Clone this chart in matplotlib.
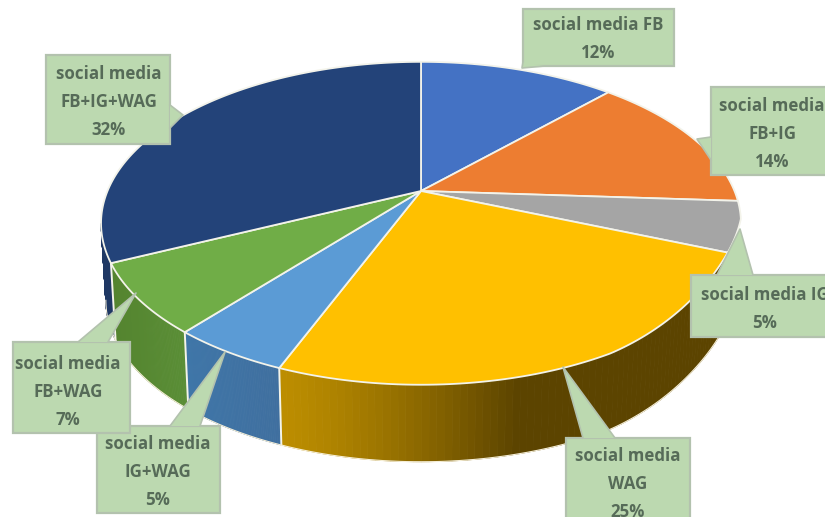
import numpy as np
import matplotlib
matplotlib.use('Agg')
import matplotlib.pyplot as plt
from matplotlib.colors import to_rgb
from matplotlib.patches import Polygon

plt.rcParams['font.family'] = ['Open Sans', 'DejaVu Sans']

# 各类占比，从正上方顺时针排列
shares = [12, 14, 5, 25, 5, 7, 32]
labels = [
    'social media FB\n12%',
    'social media\nFB+IG\n14%',
    'social media IG\n5%',
    'social media\nWAG\n25%',
    'social media\nIG+WAG\n5%',
    'social media\nFB+WAG\n7%',
    'social media\nFB+IG+WAG\n32%',
]
top_colors = ['#4472c4', '#ed7d31', '#a5a5a5', '#ffc000', '#5b9bd5', '#70ad47', '#234379']
# 侧面颜色：左端、右端
wall_colors = [None, None, None, ('#bd8e00', '#5c4400'), ('#3f76a8', '#3f6f9f'),
               ('#54842f', '#5a8e36'), ('#1f3864', '#1f3864')]

# 标签框 (x0, y0, x1, y1) 和引线 (基点1, 尖端, 基点2)
boxes = [
    (523, 9, 674, 66), (711, 87, 830, 175), (691, 275, 830, 337), (566, 438, 690, 525),
    (97, 426, 220, 513), (13, 342, 130, 433), (46, 55, 170, 144),
]
pointers = [
    ((523, 62), (522, 68), (545, 66)), ((711, 137), (697, 139), (711, 160)),
    ((717, 275), (740, 229), (753, 275)), ((583, 438), (563, 367), (615, 438)),
    ((170, 426), (225, 352), (200, 426)), ((78, 342), (136, 293), (108, 342)),
    ((170, 105), (183, 115), (170, 128)),
]
text_pos = [(598, 39), (772, 134), (765, 309), (628, 484), (158, 472), (68, 392), (109, 102)]

# 透视投影参数
xc, yc = 421, 191
ax_x, ax_y, persp = 313.5, 155, 0.2
depth = 77
left_most = 2 * np.pi - np.arccos(-persp)
pull_from, pull_to = np.radians(100), np.radians(150)


def rim(t):
    # t 为顺时针弧度，0 在正上方
    u, v = np.sin(t), np.cos(t)
    w = 1 + persp * v
    # 右下方边缘略向内收
    pull = np.where((t > pull_from) & (t < pull_to),
                    12 * np.sin(np.pi * (t - pull_from) / (pull_to - pull_from)), 0)
    return xc + ax_x * u / w - pull, yc - ax_y * v / w


def mix(c1, c2, f):
    a, b = np.array(to_rgb(c1)), np.array(to_rgb(c2))
    return tuple(a + (b - a) * f)


fig = plt.figure(figsize=(8.25, 5.17), dpi=100)
ax = fig.add_axes([0, 0, 1, 1])
ax.set_xlim(0, 825)
ax.set_ylim(517, 0)
ax.axis('off')

edges = np.cumsum([0] + shares) / sum(shares) * 2 * np.pi

# 侧面（只画朝前的部分）
for i in range(len(shares)):
    if wall_colors[i] is None:
        continue
    t0, t1 = edges[i], min(edges[i + 1], left_most)
    ts = np.linspace(t0, t1, 80)
    x, y = rim(ts)
    xb = xc + (x - xc) * 0.985
    yb = y + depth
    c_left, c_right = wall_colors[i]
    for k in range(len(ts) - 1):
        if i == 3:
            f = np.clip((x[k] - 280) / 240, 0, 1) ** 1.3
        else:
            f = np.clip((x[k] - x.min()) / (x.max() - x.min() + 1e-6), 0, 1)
        col = mix(c_left, c_right, f)
        ax.fill([x[k], x[k + 1], xb[k + 1], xb[k]], [y[k], y[k + 1], yb[k + 1], yb[k]],
                color=col, lw=0.6, zorder=2)
    ax.plot([x[0], xb[0]], [y[0], yb[0]], color='#f4f4ea', lw=1.4, zorder=3)
    ax.plot(xb, yb, color='#f6efd8', lw=0.8, zorder=3)

# 顶面
for i in range(len(shares)):
    ts = np.linspace(edges[i], edges[i + 1], 120)
    x, y = rim(ts)
    ax.fill(np.r_[xc, x], np.r_[yc, y], facecolor=top_colors[i], edgecolor='#f3f3ea',
            lw=1.3, joinstyle='round', zorder=4)

# 数据标签
for box, ptr, pos, text in zip(boxes, pointers, text_pos, labels):
    x0, y0, x1, y1 = box
    rect = Polygon([(x0, y0), (x1, y0), (x1, y1), (x0, y1)], closed=True,
                   facecolor='#bcd9b0', edgecolor='#b3c2ae', lw=1.6, zorder=5)
    ax.add_patch(rect)
    tail = Polygon(ptr, closed=True, facecolor='#bcd9b0', edgecolor='none', zorder=6)
    ax.add_patch(tail)
    ax.plot([ptr[0][0], ptr[1][0], ptr[2][0]], [ptr[0][1], ptr[1][1], ptr[2][1]],
            color='#b3c2ae', lw=1.2, zorder=6)
    ax.text(pos[0], pos[1], text, ha='center', va='center', fontsize=12.2,
            fontweight='bold', color='#566b58', linespacing=1.72, zorder=7)

fig.savefig('out.png', dpi=100, facecolor='white')
